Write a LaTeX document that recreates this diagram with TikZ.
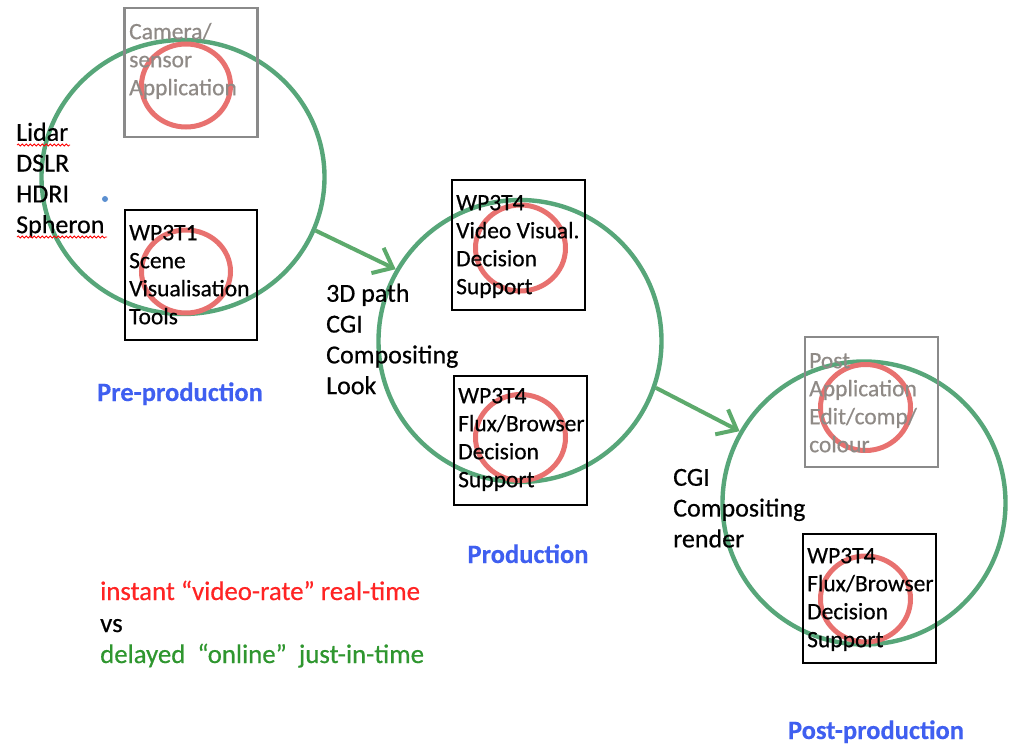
\documentclass[tikz,border=0pt]{standalone}
\usepackage{fontspec}
\setmainfont{Carlito}[FakeBold=0.5, BoldFont={Carlito Bold}, BoldFeatures={FakeBold=0.3}]
\usetikzlibrary{shapes.geometric,arrows.meta,decorations.pathmorphing}
\definecolor{ringgreen}{HTML}{57A679}
\definecolor{arrowgreen}{HTML}{5DAA6C}
\definecolor{ringred}{HTML}{E8716F}
\definecolor{phaseblue}{HTML}{3F5FF0}
\definecolor{txtred}{HTML}{FF2424}
\definecolor{txtgreen}{HTML}{2F962F}
\definecolor{boxgray}{HTML}{8A8A8A}
\definecolor{txtgray}{HTML}{8F8A86}
\definecolor{dotblue}{HTML}{5B8FD0}
\begin{document}
\begin{tikzpicture}[x=1pt,y=-1pt,
  bigring/.style={ellipse, draw=ringgreen, line width=4.4pt, inner sep=0pt, minimum width=283pt, minimum height=280pt},
  smallring/.style={ellipse, draw=ringred, line width=5pt, inner sep=0pt, minimum width=89pt, minimum height=83pt},
  blackbox/.style={rectangle, draw=black, line width=2.4pt, inner sep=0pt, minimum width=133pt, minimum height=129pt},
  graybox/.style={rectangle, draw=boxgray, line width=2.4pt, inner sep=0pt, minimum width=133pt, minimum height=129pt},
  boxtxt/.style={anchor=north west, inner sep=0pt, align=left, font=\fontsize{23.5}{28}\selectfont},
  sidetxt/.style={anchor=north west, inner sep=0pt, align=left, font=\fontsize{26}{30.8}\selectfont},
  phase/.style={anchor=base, inner sep=0pt, text=phaseblue, font=\fontsize{26.5}{31}\selectfont\bfseries},
  bottomtxt/.style={anchor=base west, inner sep=0pt, font=\fontsize{26.8}{31}\selectfont},
  garrow/.style={draw=arrowgreen, line width=4pt, -{Straight Barb[length=17pt, width=28pt]}},
  spell/.style={draw=red, line width=0.8pt, decorate, decoration={snake, amplitude=1pt, segment length=4pt}}
]
\useasboundingbox (0,0) rectangle (1012,744);

% big green rings
\node[bigring, minimum height=274pt] (g1) at (183,177) {};
\node[bigring, minimum height=282pt] (g2) at (520,341) {};
\node[bigring, minimum height=283pt] (g3) at (864,503) {};

% boxes
\node[graybox] (bcam) at (191,72.5) {};
\node[blackbox, minimum width=132pt, minimum height=130pt] (bt1) at (191,275) {};
\node[blackbox, minimum height=130pt] (bmt) at (518.5,245) {};
\node[blackbox] (bmb) at (520.5,440.5) {};
\node[graybox, minimum height=130pt] (brt) at (871.5,402) {};
\node[blackbox] (brb) at (869.5,598.5) {};

% red rings
\node[smallring] (rcam) at (186,85.5) {};
\node[smallring] (rt1) at (186,271.5) {};
\node[smallring, minimum width=90pt, minimum height=86pt] (rmt) at (520.5,248) {};
\node[smallring, minimum width=90pt, minimum height=86pt] (rmb) at (520.5,437.5) {};
\node[smallring, minimum width=90pt, minimum height=86pt] (rrt) at (865.5,407.5) {};
\node[smallring, minimum width=90pt, minimum height=86pt] (rrb) at (865.5,599) {};

% box texts
\node[boxtxt, text=txtgray] (tcam) at (129,19.4) {\strut Camera/\\sensor\\Application};
\node[boxtxt] (tt1) at (129,220.4) {\strut WP3T1\\Scene\\Visualisation\\Tools};
\node[boxtxt] (tmt) at (456,190.4) {\strut WP3T4\\Video Visual.\\Decision\\Support};
\node[boxtxt] (tmb) at (458,383.4) {\strut WP3T4\\Flux/Browser\\Decision\\Support};
\node[boxtxt, text=txtgray] (trt) at (809,348.4) {\strut Post\\Application\\Edit/comp/\\colour};
\node[boxtxt] (trb) at (807,543.4) {\strut WP3T4\\Flux/Browser\\Decision\\Support};

% side labels
\node[sidetxt] (sin) at (16,119) {\strut Lidar\\DSLR\\HDRI\\Spheron};
\node[sidetxt] (smid) at (326,280) {\strut 3D path\\CGI\\Compositing\\Look};
\node[sidetxt] (sright) at (673,464) {\strut CGI\\Compositing\\render};

% spell-check marks
\draw[spell] (17,145) -- (70,145);
\draw[spell] (17,237) -- (107,237);

% small blue dot
\fill[dotblue] (105,199) circle (3pt);

% phase labels
\node[phase] (ppre) at (180,401) {Pre-production};
\node[phase] (pprod) at (528,563) {Production};
\node[phase] (ppost) at (876,739) {Post-production};

% bottom texts
\node[bottomtxt, text=txtred] (lred) at (100,600) {instant “video-rate” real-time};
\node[bottomtxt, text=black] (lvs) at (100,632) {vs};
\node[bottomtxt, text=txtgreen] (lgreen) at (100,663) {delayed\ \ “online”\ \ just-in-time};

% arrows
\draw[garrow] (g1.-22) -- (g2.150);
\draw[garrow] (g2.-19) -- (g3.150);
\end{tikzpicture}
\end{document}
